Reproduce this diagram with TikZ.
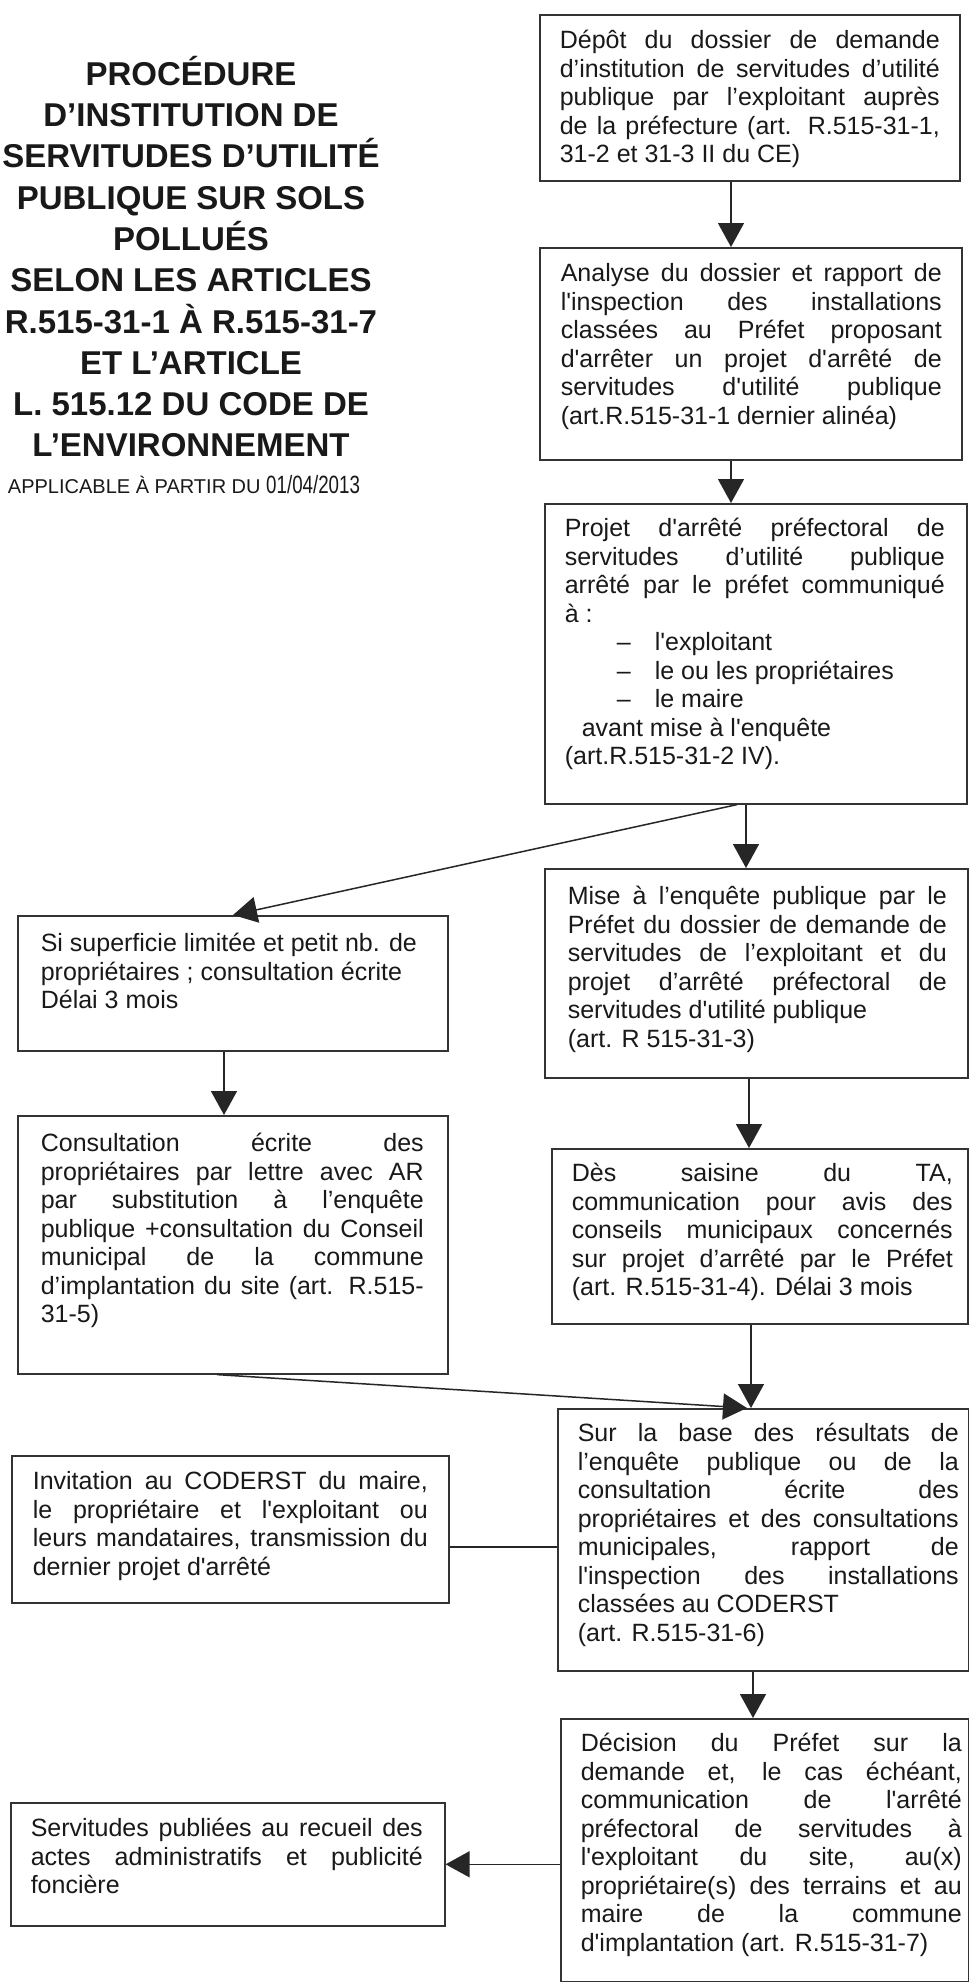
\documentclass[tikz,border=0pt]{standalone}
\usepackage{fontspec}
\usepackage{graphicx}
\setmainfont{Liberation Sans}
\usetikzlibrary{arrows.meta,calc}
\newcommand\J[1]{\makebox[\linewidth][s]{#1}\\}
\newcommand\ap{\textquotesingle}
\newcommand\bt[6]{\hbox{\hspace*{#1pt}\parbox[c][#4pt][t]{#2pt}{\fontsize{25}{28.5}\selectfont\rule{0pt}{#5pt}#6}\hspace*{#3pt}}}
\tikzset{
  bx/.style={draw=black!80, line width=1.6pt, inner sep=0pt, anchor=north west, fill=white, text=black!90},
  arr/.style={draw=black!85, line width=1.5pt, -{Triangle[width=26pt,length=24pt]}},
  ln/.style={draw=black!85, line width=1.5pt}
}
\begin{document}
\begin{tikzpicture}[x=1pt,y=-1pt]
\fill[white] (0,0) rectangle (969,1982);
\useasboundingbox (0,0) rectangle (969,1982);

% title
\node[anchor=north, inner sep=0pt, text=black!90] (title) at (191,50)
 {\parbox[t]{440pt}{\centering\fontsize{33}{41.3}\selectfont\bfseries\rule{0pt}{35pt}PROCÉDURE\\
 D’INSTITUTION DE\\
 SERVITUDES D’UTILITÉ\\
 PUBLIQUE SUR SOLS\\
 POLLUÉS\\
 SELON LES ARTICLES\\
 R.515-31-1 À R.515-31-7\\
 ET L’ARTICLE\\
 L. 515.12 DU CODE DE\\
 L’ENVIRONNEMENT}};
\node[anchor=base, inner sep=0pt, text=black!90] (applic) at (184,493)
 {\fontsize{20}{24}\selectfont APPLICABLE À PARTIR DU \scalebox{0.75}[1]{\fontsize{25}{28}\selectfont 01/04/2013}};

% right column
\node[bx] (B1) at (539,14) {\bt{20}{380}{20}{166}{34}{%
\J{Dépôt du dossier de demande}
\J{d’institution de servitudes d’utilité}
\J{publique par l’exploitant auprès}
\J{de la préfecture (art. R.515-31-1,}
31-2 et 31-3 II du CE)}};

\node[bx] (B2) at (539,247) {\bt{21}{381}{20}{212}{34}{%
\J{Analyse du dossier et rapport de}
\J{l\ap inspection des installations}
\J{classées au Préfet proposant}
\J{d\ap arrêter un projet d\ap arrêté de}
\J{servitudes d\ap utilité publique}
(art.R.515-31-1 dernier alinéa)}};

\node[bx] (B3) at (544,503) {\bt{20}{380}{22}{300}{33}{%
\J{Projet d\ap arrêté préfectoral de}
\J{servitudes d’utilité publique}
\J{arrêté par le préfet communiqué}
à :\\
\hspace*{52pt}\makebox[38pt][l]{–}l\ap exploitant\\
\hspace*{52pt}\makebox[38pt][l]{–}le ou les propriétaires\\
\hspace*{52pt}\makebox[38pt][l]{–}le maire\\
\hspace*{17pt}avant mise à l\ap enquête\\
(art.R.515-31-2 IV).}};

\node[bx] (B4) at (544,868) {\bt{23}{379}{21}{209}{36}{%
\J{Mise à l’enquête publique par le}
\J{Préfet du dossier de demande de}
\J{servitudes de l’exploitant et du}
\J{projet d’arrêté préfectoral de}
servitudes d\ap utilité publique\\
(art. R 515-31-3)}};

\node[bx] (B5) at (551,1148) {\bt{20}{381}{15}{175}{33}{%
\J{Dès saisine du TA,}
\J{communication pour avis des}
\J{conseils municipaux concernés}
\J{sur projet d’arrêté par le Préfet}
(art. R.515-31-4). Délai 3 mois}};

\node[bx] (B6) at (557,1408) {\bt{20}{381}{10}{262}{33}{%
\J{Sur la base des résultats de}
\J{l’enquête publique ou de la}
\J{consultation écrite des}
\J{propriétaires et des consultations}
\J{municipales, rapport de}
\J{l\ap inspection des installations}
classées au CODERST\\
(art. R.515-31-6)}};

\node[bx] (B7) at (560,1718) {\bt{20}{381}{7}{263}{33}{%
\J{Décision du Préfet sur la}
\J{demande et, le cas échéant,}
\J{communication de l\ap arrêté}
\J{préfectoral de servitudes à}
\J{l\ap exploitant du site, au(x)}
\J{propriétaire(s) des terrains et au}
\J{maire de la commune}
d\ap implantation (art. R.515-31-7)}};

% left column
\node[bx] (L1) at (17,915) {\bt{23}{384}{23}{135}{36}{%
Si superficie limitée et petit nb. de\\
propriétaires ; consultation écrite\\
Délai 3 mois}};

\node[bx] (L2) at (17,1115) {\bt{23}{383}{24}{258}{36}{%
\J{Consultation écrite des}
\J{propriétaires par lettre avec AR}
\J{par substitution à l’enquête}
\J{publique +consultation du Conseil}
\J{municipal de la commune}
\J{d’implantation du site (art. R.515-}
31-5)}};

\node[bx] (L3) at (11,1455) {\bt{21}{395}{21}{147}{34}{%
\J{Invitation au CODERST du maire,}
\J{le propriétaire et l\ap exploitant ou}
\J{leurs mandataires, transmission du}
dernier projet d\ap arrêté}};

\node[bx] (L4) at (10,1802) {\bt{20}{392}{22}{123}{34}{%
\J{Servitudes publiées au recueil des}
\J{actes administratifs et publicité}
foncière}};

% connector positions
\coordinate (xa) at (731,0);
\coordinate (xb) at (746,0);
\coordinate (xc) at (749,0);
\coordinate (xd) at (751,0);
\coordinate (xe) at (753,0);
\coordinate (xf) at (737,0);
\coordinate (xg) at (233,0);
\coordinate (xh) at (224,0);
\coordinate (xi) at (217,0);
\coordinate (xj) at (747,0);
\coordinate (yh) at (0,1547);

\draw[arr] (B1.south -| xa) -- (B2.north -| xa);
\draw[arr] (B2.south -| xa) -- (B3.north -| xa);
\draw[arr] (B3.south -| xb) -- (B4.north -| xb);
\draw[arr] (B3.south -| xf) -- (L1.north -| xg);
\draw[arr] (B4.south -| xc) -- (B5.north -| xc);
\draw[arr] (L1.south -| xh) -- (L2.north -| xh);
\draw[arr] (B5.south -| xd) -- (B6.north -| xd);
\draw[arr] (L2.south -| xi) -- (B6.north -| xj);
\draw[ln] (L3.east |- yh) -- (B6.west |- yh);
\draw[arr] (B6.south -| xe) -- (B7.north -| xe);
\draw[arr] (B7.west |- L4.east) -- (L4.east);
\end{tikzpicture}
\end{document}
